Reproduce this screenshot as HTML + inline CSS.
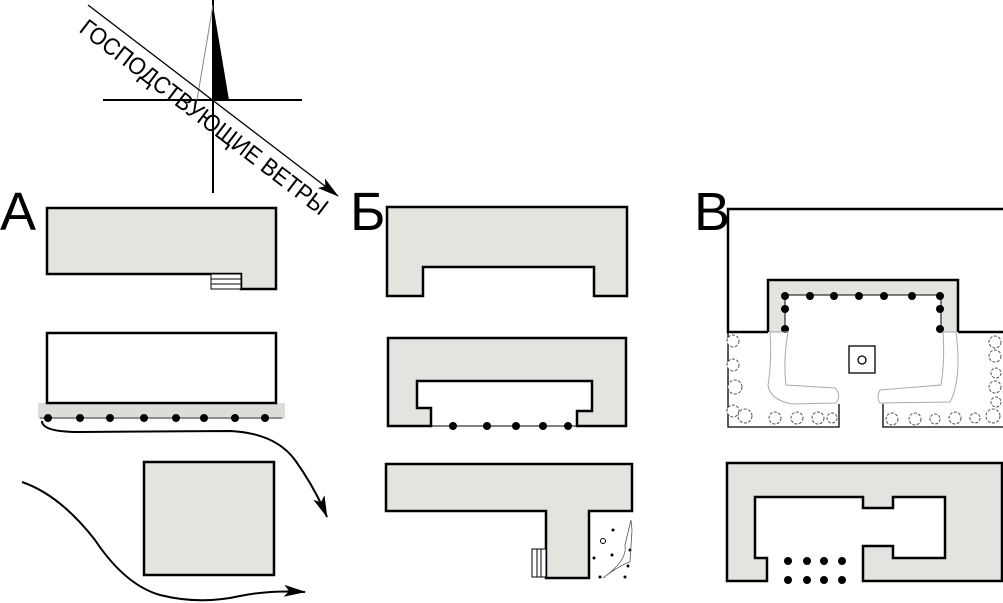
<!DOCTYPE html>
<html><head><meta charset="utf-8"><style>body{margin:0;background:#fff}svg{display:block}</style></head><body>
<svg width="1003" height="603" viewBox="0 0 1003 603" xmlns="http://www.w3.org/2000/svg" font-family="Liberation Sans, sans-serif">
<defs>
<marker id="ar2" markerWidth="22" markerHeight="12" refX="21" refY="6" orient="auto" markerUnits="userSpaceOnUse"><path d="M0,0 L22,6 L0,12 L5,6Z" fill="#000"/></marker></defs>
<g stroke="#000" stroke-width="2" fill="none">
<line x1="213" y1="0" x2="213" y2="193"/>
<line x1="103" y1="100" x2="302" y2="100"/>
<line x1="213" y1="5" x2="197" y2="100" stroke="#888" stroke-width="1"/>
<polygon points="213,5 213,100 229,100" fill="#000" stroke="none"/>
<line x1="88" y1="5" x2="338" y2="196" stroke-width="1.3" marker-end="url(#ar2)"/>
</g>
<text x="0" y="0" font-size="24" textLength="305" lengthAdjust="spacingAndGlyphs" transform="translate(78,31) rotate(37.4)">ГОСПОДСТВУЮЩИЕ ВЕТРЫ</text>
<g font-size="54"><text x="0" y="230">А</text><text x="350" y="230">Б</text><text x="694" y="230">В</text></g>
<g stroke="#000" stroke-width="2.5" fill="#e3e3df">
<polygon points="47,208 276,208 276,289 241,289 241,274 47,274"/>
<rect x="38" y="403" width="247" height="16" fill="#dcdcd8" stroke="none"/>
<rect x="47" y="333" width="229" height="70" fill="#fff"/>
<rect x="144" y="462" width="130" height="113"/>
<polygon points="387,207 627,207 627,296 594,296 594,267 423,267 423,296 387,296"/>
<polygon points="388,338 626,338 626,426 577,426 577,411 592,411 592,381 417,381 417,408 431,408 431,426 388,426"/>
<polygon points="386,464 632,464 632,511 589,511 589,578 546,578 546,511 386,511"/>
<polyline points="768,332 728,332 728,209 1005,209" fill="none"/>
<polyline points="958,332 1005,332" fill="none"/>
<polygon points="768,332 768,280 958,280 958,332 941,332 941,295 785,295 785,332" stroke="none"/>
<polyline points="768,332 768,280 958,280 958,332" fill="none"/>
<polyline points="785,332 785,295 941,295 941,332" fill="none" stroke-width="1"/>
<polygon points="727,463 1002,463 1002,581 863,581 863,546 893,546 893,558 945,558 945,497 893,497 893,508 863,508 863,497 755,497 755,558 767,558 767,581 727,581"/>
</g>
<g stroke="#000" stroke-width="1" fill="#fff">
<rect x="211" y="274" width="30" height="15"/><line x1="211" y1="279" x2="241" y2="279"/><line x1="211" y1="284" x2="241" y2="284"/>
<rect x="532" y="549" width="14" height="28"/><line x1="537" y1="549" x2="537" y2="577"/><line x1="541" y1="549" x2="541" y2="577"/>
</g>
<line x1="40" y1="418" x2="282" y2="418" stroke="#777" stroke-width="1.5"/>
<line x1="431" y1="426" x2="577" y2="426" stroke="#000" stroke-width="1"/>
<g fill="#000">
<circle cx="48" cy="418" r="4"/><circle cx="80" cy="418" r="4"/><circle cx="110" cy="418" r="4"/><circle cx="144" cy="418" r="4"/><circle cx="176" cy="418" r="4"/><circle cx="204" cy="418" r="4"/><circle cx="235" cy="418" r="4"/><circle cx="265" cy="418" r="4"/>
<circle cx="453" cy="426" r="4"/><circle cx="487" cy="426" r="4"/><circle cx="516" cy="426" r="4"/><circle cx="543" cy="426" r="4"/><circle cx="568" cy="426" r="4"/>
<circle cx="785" cy="296" r="4"/><circle cx="810" cy="296" r="4"/><circle cx="834" cy="296" r="4"/><circle cx="859" cy="296" r="4"/><circle cx="884" cy="296" r="4"/><circle cx="912" cy="296" r="4"/><circle cx="940" cy="296" r="4"/>
<circle cx="785" cy="309" r="4"/><circle cx="785" cy="329" r="4"/><circle cx="940" cy="309" r="4"/><circle cx="940" cy="329" r="4"/>
<circle cx="788" cy="561" r="4"/><circle cx="807" cy="561" r="4"/><circle cx="824" cy="561" r="4"/><circle cx="842" cy="561" r="4"/>
<circle cx="788" cy="580" r="4"/><circle cx="807" cy="580" r="4"/><circle cx="824" cy="580" r="4"/><circle cx="842" cy="580" r="4"/>
<circle cx="613" cy="530" r="1.5"/><circle cx="594" cy="558" r="1.5"/><circle cx="612" cy="555" r="1.5"/><circle cx="630" cy="550" r="1.5"/><circle cx="628" cy="566" r="1.5"/><circle cx="625" cy="577" r="1.5"/><circle cx="600" cy="577" r="1.5"/>
</g>
<circle cx="603" cy="541" r="2.5" fill="none" stroke="#000"/>
<path d="M603,578 Q620,565 630,562 L632,530 L631,520 L625,545 Q628,560 603,578" fill="none" stroke="#555" stroke-width="0.8"/>
<g fill="none" stroke="#000" stroke-width="2">
<path d="M42,421 Q42,432 80,432 L230,431 Q275,433 295,460 Q315,488 327,517" marker-end="url(#ar2)"/>
<path d="M22,482 Q60,495 95,540 Q125,585 160,595 Q200,605 240,596 Q270,590 305,592" marker-end="url(#ar2)"/>
</g>
<g stroke="#000" stroke-width="1.3" fill="none">
<polyline points="728,332 728,427 839,427 839,404"/>
<polyline points="883,404 883,427 1003,427"/>
<rect x="849" y="346" width="26" height="27"/>
<circle cx="862" cy="360" r="4"/>
</g>
<g stroke="#aaa" stroke-width="1" fill="none">
<path d="M770,332 L788,332 Q783,360 786,385 L835,388 Q842,395 836,403 L792,404 Q770,400 768,385 Q772,360 770,332Z"/>
<path d="M956,332 L943,332 Q945,360 941,385 L880,390 Q876,398 880,403 L950,402 Q962,380 956,332Z"/>
</g>
<g stroke="#555" stroke-width="1" fill="#fff" stroke-dasharray="3,1.5">
<circle cx="733" cy="341" r="6"/><circle cx="733" cy="365" r="6"/><circle cx="735" cy="387" r="7"/><circle cx="733" cy="411" r="6"/><circle cx="745" cy="416" r="7"/><circle cx="775" cy="418" r="6"/><circle cx="797" cy="418" r="6"/><circle cx="818" cy="418" r="6"/><circle cx="832" cy="418" r="5"/>
<circle cx="892" cy="419" r="6"/><circle cx="915" cy="419" r="6"/><circle cx="935" cy="419" r="5"/><circle cx="955" cy="418" r="6"/><circle cx="975" cy="418" r="5"/><circle cx="993" cy="416" r="7"/>
<circle cx="995" cy="342" r="6"/><circle cx="995" cy="356" r="6"/><circle cx="996" cy="373" r="5"/><circle cx="995" cy="387" r="6"/><circle cx="996" cy="402" r="5"/>
</g>
</svg>
</body></html>
